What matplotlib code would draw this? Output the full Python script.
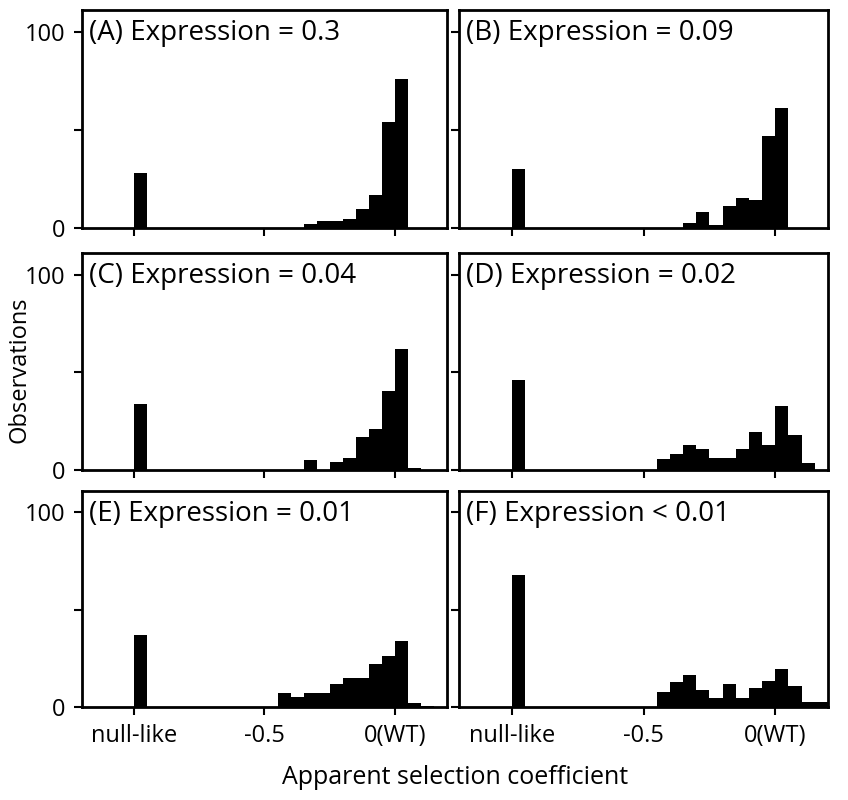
import matplotlib
matplotlib.use("Agg")
import matplotlib.pyplot as plt
import numpy as np

plt.rcParams['font.family'] = ['Open Sans', 'DejaVu Sans']

titles = ["(A) Expression = 0.3", "(B) Expression = 0.09", "(C) Expression = 0.04",
          "(D) Expression = 0.02", "(E) Expression = 0.01", "(F) Expression < 0.01"]
null_counts = [28, 30, 34, 46, 37, 68]
bin_starts = [-0.45, -0.4, -0.35, -0.3, -0.25, -0.2, -0.15, -0.1, -0.05, 0.0, 0.05, 0.1, 0.15]
counts_A = [0, 0, 2, 3.5, 3.5, 4.4, 9.6, 17, 54, 76, 0, 0, 0]
counts_B = [0, 0, 2.5, 8, 1.7, 11, 15.5, 14.5, 47, 61, 0, 0, 0]
counts_C = [0, 0, 5, 0, 4, 6, 17, 21, 40.5, 62, 1, 0, 0]
counts_D = [5.4, 8.3, 13, 10.5, 6.3, 6.3, 10.5, 19.3, 13, 32.5, 18, 3.4, 0]
counts_E = [7, 5, 7, 7, 12, 15, 15, 22, 26, 34, 2, 0.5, 0]
counts_F = [7.8, 12.7, 16.3, 8.8, 4.7, 11.9, 4.7, 9.8, 13.4, 19.5, 10.7, 2.7, 2.7]
all_counts = [counts_A, counts_B, counts_C, counts_D, counts_E, counts_F]
xtick_pos = [-1.0, -0.5, 0.0]
xtick_labels = ["null-like", "-0.5", "0(WT)"]

fig = plt.figure(figsize=(8.48, 8.0), dpi=100)
W, H = 848, 800
cols = [(82, 447), (459, 828)]
rows = [(10, 228), (253, 470), (491, 707)]
width = 0.05
for i in range(6):
    r, c = divmod(i, 2)
    x0, x1 = cols[c]; y0, y1 = rows[r]
    ax = fig.add_axes([x0 / W, 1 - y1 / H, (x1 - x0) / W, (y1 - y0) / H])
    ax.bar([-1.0], [null_counts[i]], width=width, align='edge', color='black', edgecolor='none')
    ax.bar(bin_starts, all_counts[i], width=width, align='edge', color='black', edgecolor='none')
    ax.set_xlim(-1.2, 0.2)
    ax.set_ylim(0, 111)
    ax.set_yticks([0, 50, 100])
    if c == 0:
        ax.set_yticklabels(["0", "", "100"], fontsize=17)
    else:
        ax.set_yticklabels([])
    ax.set_xticks(xtick_pos)
    if r == 2:
        ax.set_xticklabels(xtick_labels, fontsize=17)
    else:
        ax.set_xticklabels([])
    ax.tick_params(direction='out', length=6, width=1.5, pad=6)
    for s in ax.spines.values():
        s.set_linewidth(2)
    ax.text(0.02, 0.96, titles[i], transform=ax.transAxes, fontsize=20, va='top', ha='left')

fig.text(20 / W, 1 - 370 / H, "Observations", rotation=90, fontsize=17, va='center', ha='center')
fig.text(455 / W, 1 - 777 / H, "Apparent selection coefficient", fontsize=18, va='center', ha='center')
fig.savefig("out.png", dpi=100)
